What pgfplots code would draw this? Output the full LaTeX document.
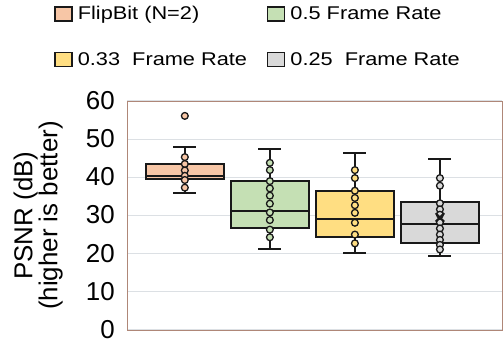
\documentclass[border=0pt]{standalone}
\usepackage{fontspec}
\setmainfont{Liberation Sans}
\newfontfamily\legfont[FakeStretch=1.18]{Liberation Sans}
\usepackage{pgfplots}
\pgfplotsset{compat=1.18}

\definecolor{flip}{RGB}{247,198,166}
\definecolor{half}{RGB}{197,224,180}
\definecolor{third}{RGB}{255,222,130}
\definecolor{quarter}{RGB}{217,217,217}
\definecolor{dark}{RGB}{25,25,25}
\definecolor{gridgray}{RGB}{220,224,228}
\definecolor{framecol}{RGB}{175,135,120}

\pgfplotsset{
  boxline/.style={forget plot, draw=dark, line width=2bp, mark=none},
  sample/.style={forget plot, only marks, mark=*, mark size=3.4bp,
    mark options={fill=#1, draw=dark, line width=1.3bp}},
}

\begin{document}
\begin{tikzpicture}
\useasboundingbox (0bp,0bp) rectangle (504bp,-343bp);
\begin{axis}[
  at={(127bp,-330bp)}, anchor=south west,
  scale only axis, width=375bp, height=229bp,
  xmin=0.32, xmax=4.73, ymin=0, ymax=60,
  xtick=\empty, ytick={0,10,...,60},
  major tick length=0pt,
  ymajorgrids, grid style={draw=gridgray, line width=1.2bp},
  axis line style={draw=framecol, line width=1bp},
  tick label style={font=\fontsize{26}{26}\selectfont},
  /pgf/number format/assume math mode=true,
  yticklabel style={anchor=east, inner sep=0pt, xshift=-12bp, yshift=0.5bp},
  ylabel={PSNR (dB)\\(higher is better)},
  ylabel style={font=\fontsize{26}{23}\selectfont, align=center,
    at={(axis description cs:-0.237,0.5)}, anchor=center, inner sep=0pt},
  legend columns=2,
  legend cell align=left,
  legend image code/.code={\draw[#1, line width=1.4bp] (0bp,-7bp) rectangle (17bp,7bp);},
  legend style={draw=none, fill=none, at={(axis description cs:-0.194,1.435)},
    anchor=north west, inner sep=0pt,
    font=\legfont\fontsize{18.5}{20}\selectfont,
    nodes={inner sep=5bp}, row sep=21bp,
    /tikz/every even column/.append style={column sep=15bp}},
]
% legend swatches
\addlegendimage{fill=flip, draw=dark}
\addlegendentry{FlipBit (N=2)}
\addlegendimage{fill=half, draw=dark}
\addlegendentry{0.5 Frame Rate}
\addlegendimage{fill=third, draw=dark}
\addlegendentry{0.33\ \ Frame Rate}
\addlegendimage{fill=quarter, draw=dark}
\addlegendentry{0.25\ \ Frame Rate}

% ---- FlipBit (N=2): whiskers 35.8/47.9, quartiles 39.6/43.4, median 40.4
\addplot[boxline] coordinates {(1,35.8) (1,47.9)};
\addplot[boxline] coordinates {(0.865,47.9) (1.135,47.9)};
\addplot[boxline] coordinates {(0.865,35.8) (1.135,35.8)};
\addplot[boxline, fill=flip] coordinates {(0.54,39.6) (1.46,39.6) (1.46,43.4) (0.54,43.4)} --cycle;
\addplot[boxline] coordinates {(0.54,40.4) (1.46,40.4)};

% ---- 0.5 frame rate: whiskers 21.3/47.5, quartiles 26.6/39.1, median 31.2
\addplot[boxline] coordinates {(2,21.3) (2,47.5)};
\addplot[boxline] coordinates {(1.865,47.5) (2.135,47.5)};
\addplot[boxline] coordinates {(1.865,21.3) (2.135,21.3)};
\addplot[boxline, fill=half] coordinates {(1.54,26.6) (2.46,26.6) (2.46,39.1) (1.54,39.1)} --cycle;
\addplot[boxline] coordinates {(1.54,31.2) (2.46,31.2)};

% ---- 0.33 frame rate: whiskers 20.3/46.3, quartiles 24.3/36.4, median 29.2
\addplot[boxline] coordinates {(3,20.3) (3,46.3)};
\addplot[boxline] coordinates {(2.865,46.3) (3.135,46.3)};
\addplot[boxline] coordinates {(2.865,20.3) (3.135,20.3)};
\addplot[boxline, fill=third] coordinates {(2.54,24.3) (3.46,24.3) (3.46,36.4) (2.54,36.4)} --cycle;
\addplot[boxline] coordinates {(2.54,29.2) (3.46,29.2)};

% ---- 0.25 frame rate: whiskers 19.4/44.7, quartiles 22.8/33.5, median 27.7
\addplot[boxline] coordinates {(4,19.4) (4,44.7)};
\addplot[boxline] coordinates {(3.865,44.7) (4.135,44.7)};
\addplot[boxline] coordinates {(3.865,19.4) (4.135,19.4)};
\addplot[boxline, fill=quarter] coordinates {(3.54,22.8) (4.46,22.8) (4.46,33.5) (3.54,33.5)} --cycle;
\addplot[boxline] coordinates {(3.54,27.7) (4.46,27.7)};

% individual samples (the top FlipBit point is an outlier)
\addplot[sample=flip]
  coordinates {(1,56.1) (1,45.3) (1,43.5) (1,41.8) (1,40.4) (1,39.3) (1,37.3)};
\addplot[sample=half]
  coordinates {(2,43.8) (2,41.9) (2,39.0) (2,37.1) (2,35.2) (2,33.1)
               (2,30.8) (2,28.8) (2,26.3) (2,24.3)};
\addplot[sample=third]
  coordinates {(3,41.9) (3,39.8) (3,36.5) (3,34.6) (3,32.7) (3,30.7)
               (3,28.1) (3,25.0) (3,22.7)};
\addplot[sample=quarter]
  coordinates {(4,39.8) (4,37.8) (4,33.2) (4,31.6) (4,30.2) (4,28.2)
               (4,26.6) (4,25.0) (4,23.6) (4,22.3) (4,21.1)};

% mean marker
\addplot[forget plot, only marks, mark=x, mark size=6bp,
  mark options={draw=dark, line width=2bp}] coordinates {(4,29.5)};
\end{axis}
\end{tikzpicture}
\end{document}
